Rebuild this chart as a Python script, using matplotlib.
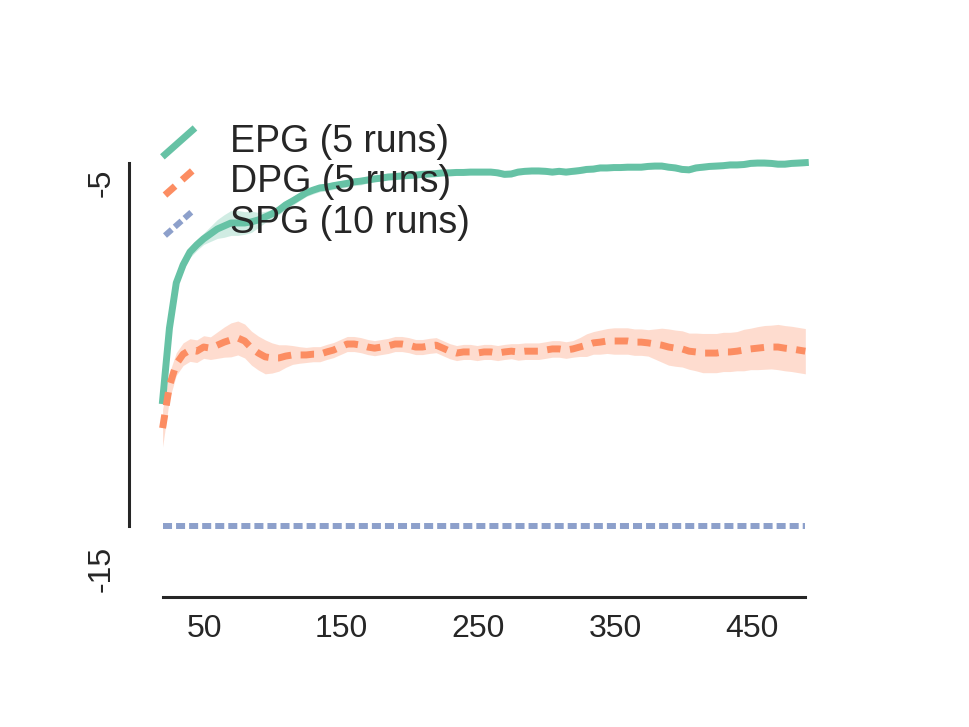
import matplotlib
matplotlib.use('Agg')
import matplotlib.pyplot as plt
from matplotlib.lines import Line2D
from matplotlib.legend_handler import HandlerLine2D

plt.rcParams['font.family'] = ['Liberation Sans', 'DejaVu Sans']
plt.rcParams['lines.scale_dashes'] = False

# ------------------------------------------------------------
# data
# ------------------------------------------------------------
episodes = [19, 24, 29, 34, 39, 44, 49, 54, 59, 64, 69, 74, 79, 84, 89, 94, 99, 104, 109, 114,
            119, 124, 129, 134, 139, 144, 149, 154, 159, 164, 169, 174, 179, 184, 189, 194, 199,
            204, 209, 214, 219, 224, 229, 234, 239, 244, 249, 254, 259, 264, 269, 274, 279, 284,
            289, 294, 299, 304, 309, 314, 319, 324, 329, 334, 339, 344, 349, 354, 359, 364, 369,
            374, 379, 384, 389, 394, 399, 404, 409, 414, 419, 424, 429, 434, 439, 444, 449, 454,
            459, 464, 469, 474, 479, 484, 489]

epg_mean = [-10.85, -8.93, -7.73, -7.25, -6.91, -6.72, -6.56, -6.43, -6.30, -6.22,
            -6.14, -6.14, -6.14, -6.11, -6.06, -5.98, -5.90, -5.80, -5.66, -5.56,
            -5.45, -5.34, -5.27, -5.21, -5.19, -5.15, -5.12, -5.09, -5.05, -5.03,
            -5.00, -4.97, -4.95, -4.92, -4.91, -4.89, -4.88, -4.87, -4.85, -4.84,
            -4.83, -4.81, -4.81, -4.80, -4.80, -4.79, -4.79, -4.79, -4.79, -4.81,
            -4.85, -4.84, -4.79, -4.77, -4.76, -4.76, -4.77, -4.79, -4.77, -4.79,
            -4.77, -4.75, -4.72, -4.71, -4.68, -4.68, -4.67, -4.67, -4.66, -4.66,
            -4.66, -4.64, -4.63, -4.63, -4.66, -4.68, -4.72, -4.73, -4.68, -4.66,
            -4.64, -4.63, -4.62, -4.60, -4.60, -4.59, -4.56, -4.55, -4.55, -4.56,
            -4.58, -4.58, -4.56, -4.55, -4.54]
epg_err = [0.05, 0.12, 0.15, 0.15, 0.15, 0.15, 0.15, 0.20, 0.25, 0.30,
           0.33, 0.33, 0.30, 0.28, 0.20, 0.15, 0.12, 0.12, 0.12, 0.12,
           0.10, 0.10, 0.10, 0.10, 0.10, 0.10, 0.10, 0.10, 0.10, 0.10,
           0.08, 0.08, 0.08, 0.08, 0.08, 0.08, 0.08, 0.08, 0.08, 0.08,
           0.08, 0.08, 0.08, 0.08, 0.08, 0.08, 0.08, 0.08, 0.08, 0.08,
           0.08, 0.08, 0.08, 0.08, 0.08, 0.08, 0.08, 0.08, 0.08, 0.08,
           0.08, 0.08, 0.08, 0.08, 0.08, 0.08, 0.08, 0.08, 0.08, 0.08,
           0.08, 0.08, 0.08, 0.08, 0.08, 0.08, 0.08, 0.08, 0.08, 0.08,
           0.08, 0.08, 0.08, 0.08, 0.08, 0.08, 0.08, 0.08, 0.08, 0.08,
           0.08, 0.08, 0.08, 0.08, 0.08]

dpg_mean = [-11.58, -10.46, -9.88, -9.62, -9.51, -9.54, -9.43, -9.46, -9.38, -9.30,
            -9.24, -9.19, -9.27, -9.46, -9.59, -9.69, -9.72, -9.72, -9.67, -9.64,
            -9.64, -9.64, -9.62, -9.62, -9.56, -9.51, -9.43, -9.35, -9.35, -9.38,
            -9.43, -9.46, -9.43, -9.40, -9.35, -9.35, -9.38, -9.43, -9.43, -9.40,
            -9.38, -9.46, -9.54, -9.59, -9.56, -9.56, -9.59, -9.56, -9.56, -9.59,
            -9.56, -9.54, -9.56, -9.54, -9.54, -9.54, -9.51, -9.48, -9.48, -9.51,
            -9.48, -9.43, -9.38, -9.32, -9.30, -9.27, -9.27, -9.27, -9.27, -9.30,
            -9.30, -9.32, -9.35, -9.38, -9.43, -9.46, -9.48, -9.54, -9.56, -9.59,
            -9.59, -9.59, -9.56, -9.56, -9.54, -9.51, -9.48, -9.46, -9.44, -9.43,
            -9.43, -9.46, -9.48, -9.51, -9.54]
dpg_err = [0.50, 0.35, 0.30, 0.30, 0.30, 0.30, 0.30, 0.30, 0.35, 0.40,
           0.45, 0.45, 0.45, 0.45, 0.45, 0.45, 0.40, 0.35, 0.30, 0.25,
           0.22, 0.20, 0.20, 0.20, 0.20, 0.20, 0.20, 0.20, 0.20, 0.20,
           0.20, 0.20, 0.20, 0.20, 0.20, 0.20, 0.20, 0.20, 0.20, 0.20,
           0.20, 0.20, 0.20, 0.20, 0.20, 0.20, 0.20, 0.20, 0.20, 0.20,
           0.20, 0.20, 0.22, 0.22, 0.22, 0.22, 0.22, 0.22, 0.22, 0.22,
           0.22, 0.25, 0.30, 0.30, 0.32, 0.33, 0.35, 0.35, 0.35, 0.35,
           0.35, 0.35, 0.40, 0.45, 0.48, 0.48, 0.48, 0.48, 0.50, 0.52,
           0.52, 0.52, 0.52, 0.52, 0.52, 0.55, 0.55, 0.57, 0.58, 0.58,
           0.60, 0.60, 0.60, 0.60, 0.60]

spg_x = [19, 489]
spg_mean = [-14.18, -14.18]

labels = ['EPG (5 runs)', 'DPG (5 runs)', 'SPG (10 runs)']
colors = ['#66c2a5', '#fc8d62', '#8da0cb']
xticks = [50, 150, 250, 350, 450]
yticks = [-5, -15]


# legend handles are drawn as a diagonal stroke
class DiagonalHandler(HandlerLine2D):
    def create_artists(self, legend, orig_handle, xdescent, ydescent, width, height, fontsize, trans):
        line = Line2D([-xdescent, -xdescent + width], [-ydescent - 0.08 * height, -ydescent + 0.82 * height])
        self.update_prop(line, orig_handle, legend)
        line.set_transform(trans)
        return [line]


fig = plt.figure(figsize=(9.69, 7.27), dpi=100)
ax = fig.add_axes([0.1551, 0.2078, 0.6915, 0.5965])

lo = [m - e for m, e in zip(epg_mean, epg_err)]
hi = [m + e for m, e in zip(epg_mean, epg_err)]
ax.fill_between(episodes, lo, hi, color=colors[0], alpha=0.3, linewidth=0)
ax.plot(episodes, epg_mean, color=colors[0], linewidth=5, label=labels[0])

lo = [m - e for m, e in zip(dpg_mean, dpg_err)]
hi = [m + e for m, e in zip(dpg_mean, dpg_err)]
ax.fill_between(episodes, lo, hi, color=colors[1], alpha=0.3, linewidth=0)
ax.plot(episodes, dpg_mean, color=colors[1], linewidth=5, linestyle=(0, (9.7, 6.8)), label=labels[1])

ax.plot(spg_x, spg_mean, color=colors[2], linewidth=4.3, linestyle=(0, (6.5, 2.9)), label=labels[2])

ax.set_xlim(10, 500)
ax.set_ylim(-15.5, -4.0)
ax.set_xticks(xticks)
ax.set_yticks(yticks)
ax.set_yticklabels([str(t) for t in yticks])
ax.tick_params(length=0, labelsize=23, colors='#262626')
ax.tick_params(axis='x', pad=12)
ax.tick_params(axis='y', pad=9, labelrotation=90)

# despined, offset axes
ax.spines['top'].set_visible(False)
ax.spines['right'].set_visible(False)
for side in ['left', 'bottom']:
    ax.spines[side].set_position(('outward', 15.5))
    ax.spines[side].set_linewidth(2.2)
    ax.spines[side].set_color('#262626')
ax.spines['left'].set_bounds(spg_mean[0], max(epg_mean))
ax.spines['bottom'].set_bounds(episodes[0], episodes[-1])

leg = ax.legend(handler_map={Line2D: DiagonalHandler()}, loc='upper left',
                bbox_to_anchor=(165 / 969, 1 - 124 / 727), bbox_transform=fig.transFigure,
                frameon=False, fontsize=27, borderpad=0, borderaxespad=0,
                handlelength=0.73, handleheight=0.73, handletextpad=1.0, labelspacing=0.12)
for t in leg.get_texts():
    t.set_color('#262626')

fig.savefig('out.png', dpi=100, facecolor='white')
plt.close()
